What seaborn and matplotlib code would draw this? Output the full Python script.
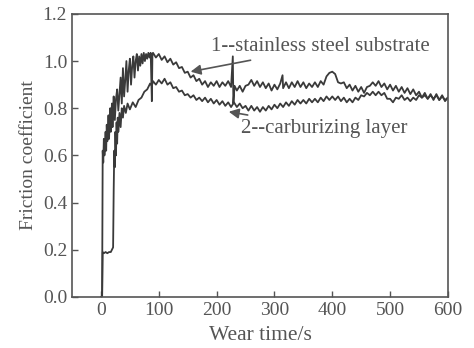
import matplotlib
matplotlib.use("Agg")
import matplotlib.pyplot as plt
import pandas as pd
import seaborn as sns

# series 1: stainless steel substrate
t_sub = [0, 2, 3, 4, 5, 6, 7, 8, 9, 10, 11, 12, 13, 14, 15, 16, 17, 18, 19, 20,
         21, 22, 24, 26, 28, 30, 32, 34, 36, 38, 40, 42, 44, 46, 48, 50, 52, 54,
         56, 58, 60, 62, 64, 66, 68, 70, 72, 74, 76, 78, 80, 82, 84, 86, 88, 89,
         90, 95, 100, 105, 110, 115, 120, 125, 130, 135, 140, 145, 150, 155, 160,
         165, 170, 175, 180, 185, 190, 195, 200, 205, 210, 215, 220, 225, 228,
         229, 231, 235, 240, 245, 250, 255, 260, 265, 270, 275, 280, 285, 290,
         295, 300, 305, 310, 314, 315, 320, 325, 330, 335, 340, 345, 350, 355,
         360, 365, 370, 375, 380, 385, 390, 395, 400, 405, 410, 415, 420, 425,
         430, 435, 440, 445, 450, 455, 460, 465, 470, 475, 480, 485, 490, 495,
         500, 505, 510, 515, 520, 525, 530, 535, 540, 545, 550, 555, 560, 565,
         570, 575, 580, 585, 590, 595, 600]
f_sub = [0.0, 0.0, 0.62, 0.57, 0.67, 0.60, 0.64, 0.70, 0.62, 0.73, 0.66, 0.69,
         0.77, 0.67, 0.75, 0.80, 0.70, 0.76, 0.82, 0.72, 0.80, 0.85, 0.75, 0.84,
         0.88, 0.79, 0.86, 0.93, 0.82, 0.97, 0.85, 0.92, 1.00, 0.87, 0.96, 1.01,
         0.90, 0.98, 1.02, 0.93, 1.00, 1.03, 0.96, 1.02, 0.98, 1.03, 0.99, 1.035,
         1.00, 1.03, 1.01, 1.035, 1.015, 1.035, 0.83, 1.03,
         1.035, 1.015, 1.03, 1.005, 1.02, 0.995, 1.01, 0.985, 0.995, 0.97, 0.975,
         0.95, 0.955, 0.93, 0.94, 0.915, 0.925, 0.90, 0.915, 0.89, 0.91, 0.895,
         0.915, 0.89, 0.91, 0.895, 0.915, 0.89, 1.02,
         0.82, 0.895, 0.875, 0.895, 0.87, 0.895, 0.90, 0.92, 0.895, 0.915, 0.89,
         0.91, 0.885, 0.905, 0.875, 0.90, 0.88, 0.905, 0.94, 0.885, 0.91, 0.885,
         0.91, 0.89, 0.915, 0.89, 0.91, 0.885, 0.905, 0.89, 0.91, 0.89, 0.915,
         0.90, 0.935, 0.95, 0.955, 0.945, 0.91, 0.905, 0.91, 0.885, 0.90, 0.875,
         0.895, 0.87, 0.89, 0.865, 0.89, 0.895, 0.91, 0.895, 0.915, 0.89, 0.905,
         0.88, 0.90, 0.875, 0.895, 0.87, 0.89, 0.865, 0.885, 0.86, 0.88, 0.855,
         0.87, 0.845, 0.865, 0.84, 0.86, 0.835, 0.86, 0.835, 0.855, 0.83, 0.845]

# series 2: carburizing layer
t_carb = [0, 2, 3, 5, 8, 11, 14, 17, 19, 21, 22, 23, 24, 25, 26, 27, 28, 29, 30,
          32, 34, 36, 38, 40, 43, 46, 50, 55, 60, 65, 70, 75, 80, 85, 88, 90, 95,
          100, 105, 110, 115, 120, 125, 130, 135, 140, 145, 150, 155, 160, 165,
          170, 175, 180, 185, 190, 195, 200, 205, 210, 215, 220, 225, 230, 235,
          240, 245, 250, 255, 260, 265, 270, 275, 280, 285, 290, 295, 300, 305,
          310, 315, 320, 325, 330, 335, 340, 345, 350, 355, 360, 365, 370, 375,
          380, 385, 390, 395, 400, 405, 410, 415, 420, 425, 430, 435, 440, 445,
          450, 455, 460, 465, 470, 475, 480, 485, 490, 495, 500, 505, 510, 515,
          520, 525, 530, 535, 540, 545, 550, 555, 560, 565, 570, 575, 580, 585,
          590, 595, 600]
f_carb = [0.0, 0.0, 0.19, 0.185, 0.19, 0.185, 0.19, 0.19, 0.20, 0.21, 0.45, 0.62,
          0.55, 0.70, 0.60, 0.74, 0.65, 0.76, 0.70, 0.78, 0.72, 0.80, 0.76, 0.81,
          0.78, 0.82, 0.795, 0.825, 0.805, 0.835, 0.845, 0.87, 0.88, 0.905, 0.895,
          0.915, 0.90, 0.92, 0.905, 0.925, 0.90, 0.91, 0.885, 0.89, 0.87, 0.875,
          0.855, 0.86, 0.845, 0.855, 0.835, 0.845, 0.83, 0.845, 0.825, 0.84, 0.82,
          0.835, 0.815, 0.83, 0.81, 0.825, 0.805,
          0.825, 0.805, 0.82, 0.80, 0.81, 0.79, 0.81, 0.79, 0.805, 0.785, 0.805,
          0.79, 0.81, 0.795, 0.815, 0.80, 0.82, 0.805, 0.825, 0.81, 0.83, 0.815,
          0.835, 0.82, 0.835, 0.82, 0.84, 0.825, 0.84, 0.825, 0.845,
          0.83, 0.85, 0.835, 0.85, 0.835, 0.85, 0.83, 0.845, 0.825, 0.84, 0.825,
          0.845, 0.835, 0.855, 0.85, 0.865, 0.855, 0.87, 0.855, 0.87, 0.855,
          0.865, 0.84, 0.84, 0.825, 0.845, 0.84, 0.855, 0.835, 0.845, 0.83, 0.845,
          0.835, 0.855, 0.845, 0.855, 0.84, 0.855, 0.84, 0.855, 0.835, 0.85,
          0.835, 0.845]

x_ticks = [0, 100, 200, 300, 400, 500, 600]
y_ticks = [0.0, 0.2, 0.4, 0.6, 0.8, 1.0, 1.2]

assert len(t_sub) == len(f_sub) and len(t_carb) == len(f_carb)

sns.set_style("ticks")
plt.rcParams['font.family'] = ['Liberation Serif', 'DejaVu Serif']
gray = "#555555"
line_c = "#3a3a3a"

df = pd.concat([
    pd.DataFrame({"t": t_sub, "f": f_sub, "s": "1"}),
    pd.DataFrame({"t": t_carb, "f": f_carb, "s": "2"}),
])

fig = plt.figure(figsize=(4.74, 3.48), dpi=100)
ax = fig.add_axes([0.152, 0.147, 0.793, 0.813])
sns.lineplot(data=df, x="t", y="f", hue="s", palette=[line_c, line_c],
             estimator=None, sort=False, linewidth=1.3, legend=False, ax=ax)

ax.set_xlim(-50, 600)
ax.set_ylim(0, 1.2)
ax.set_xticks(x_ticks)
ax.set_yticks(y_ticks)
ax.set_yticklabels(["%.1f" % v for v in y_ticks])
ax.tick_params(direction="in", length=4, width=1, colors=gray, labelsize=14)
ax.set_xlabel("Wear time/s", fontsize=15.5, color=gray, labelpad=5)
ax.set_ylabel("Friction coefficient", fontsize=14, color=gray, labelpad=4)
for sp in ax.spines.values():
    sp.set_color(gray)
    sp.set_linewidth(1.2)

ax.annotate("1--stainless steel substrate", xy=(155, 0.955), xytext=(190, 1.06),
            fontsize=15, color=gray, va="center", ha="left",
            arrowprops=dict(arrowstyle="-|>", color=gray, lw=1.2, shrinkA=2, shrinkB=0))
ax.annotate("2--carburizing layer", xy=(221, 0.785), xytext=(243, 0.715),
            fontsize=15, color=gray, va="center", ha="left",
            arrowprops=dict(arrowstyle="-|>", color=gray, lw=1.2, shrinkA=2, shrinkB=0))

fig.savefig("out.png", dpi=100)
